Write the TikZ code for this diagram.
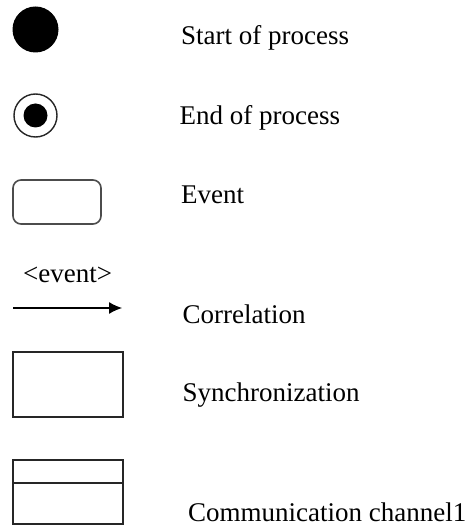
\documentclass[tikz,border=0pt]{standalone}
\usepackage{fontspec}
\setmainfont{Liberation Serif}
\usetikzlibrary{arrows.meta}
\begin{document}
\begin{tikzpicture}[x=1pt,y=-1pt,
  lbl/.style={anchor=base west,inner sep=0pt,font=\fontsize{27}{30}\selectfont},
  boxshape/.style={draw=black!85,line width=1.6pt,inner sep=0pt},
  ringshape/.style={circle,draw=black!85,line width=1.4pt,inner sep=0pt},
  dotshape/.style={circle,fill=black,inner sep=0pt}]
\useasboundingbox (0,0) rectangle (467,526);
% symbols
\node[dotshape,minimum size=46pt] (start) at (35.5,29.5) {};
\node[ringshape,minimum size=43pt] (end) at (35.5,115.5) {};
\node[dotshape,minimum size=24pt] (endin) at (35.5,115.5) {};
\node[boxshape,draw=black!70,rounded corners=8pt,minimum width=88pt,minimum height=44pt] (event) at (57,202) {};
\node[lbl] (evtxt) at (23,282) {<event>};
\coordinate (a1) at (13,308);
\coordinate (a2) at (122,308);
\draw[line width=1.2pt,-{Latex[length=13pt,width=12pt]}] (a1) -- (a2);
\node[boxshape,minimum width=110pt,minimum height=65pt] (sync) at (68,384.5) {};
\node[boxshape,minimum width=110pt,minimum height=64pt] (comm) at (68,492) {};
\coordinate (d1) at (13,483);
\coordinate (d2) at (123,483);
\draw[line width=1.6pt,black!85] (d1) -- (d2);
% labels
\node[lbl] (l1) at (181,45) {Start of process};
\node[lbl] (l2) at (179.5,125) {End of process};
\node[lbl] (l3) at (181,204) {Event};
\node[lbl] (l4) at (182.5,323) {Correlation};
\node[lbl] (l5) at (182.5,401.5) {Synchronization};
\node[lbl] (l6) at (188,521.5) {Communication channel1};
\end{tikzpicture}
\end{document}
